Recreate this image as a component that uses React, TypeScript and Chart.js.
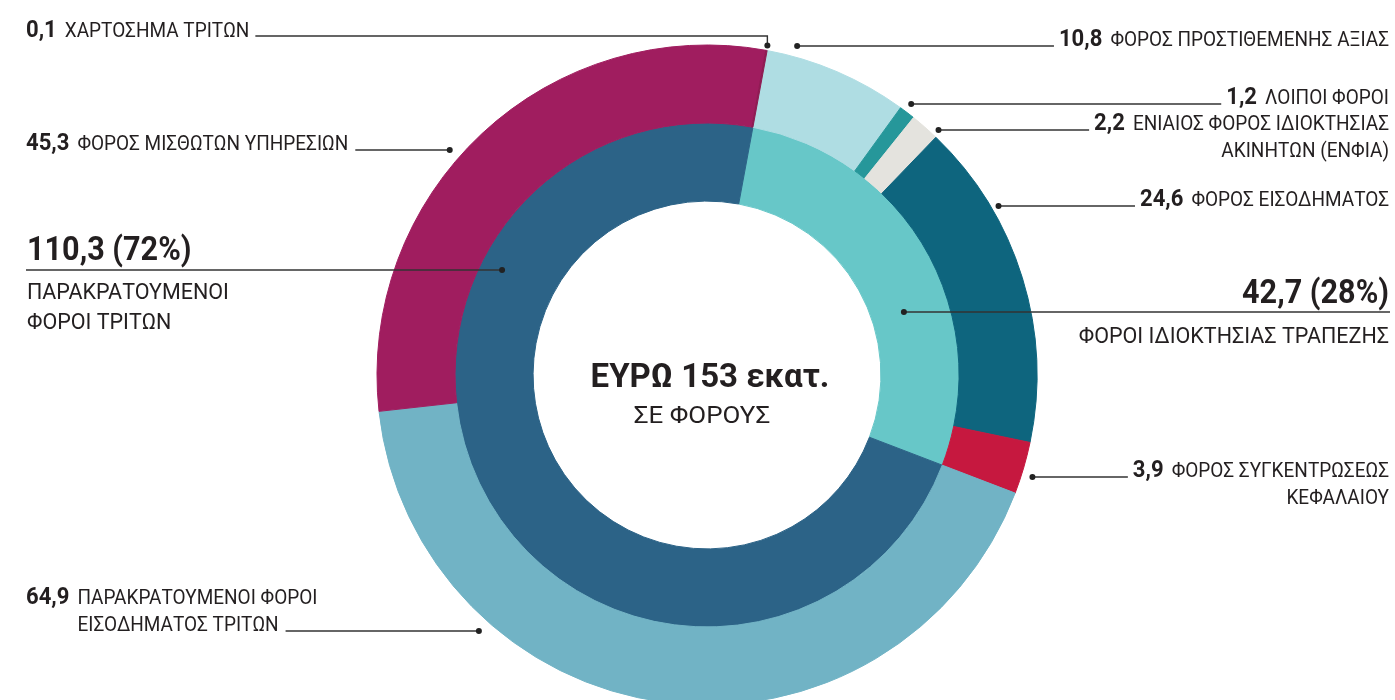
import React, { useEffect, useRef } from "react";
import { Chart, registerables } from "chart.js";

Chart.register(...registerables);

// ---------- DATA ----------
const outerCategories = [
  "ΦΟΡΟΣ ΠΡΟΣΤΙΘΕΜΕΝΗΣ ΑΞΙΑΣ",
  "ΛΟΙΠΟΙ ΦΟΡΟΙ",
  "ΕΝΙΑΙΟΣ ΦΟΡΟΣ ΙΔΙΟΚΤΗΣΙΑΣ ΑΚΙΝΗΤΩΝ (ΕΝΦΙΑ)",
  "ΦΟΡΟΣ ΕΙΣΟΔΗΜΑΤΟΣ",
  "ΦΟΡΟΣ ΣΥΓΚΕΝΤΡΩΣΕΩΣ ΚΕΦΑΛΑΙΟΥ",
  "ΠΑΡΑΚΡΑΤΟΥΜΕΝΟΙ ΦΟΡΟΙ ΕΙΣΟΔΗΜΑΤΟΣ ΤΡΙΤΩΝ",
  "ΦΟΡΟΣ ΜΙΣΘΩΤΩΝ ΥΠΗΡΕΣΙΩΝ",
  "ΧΑΡΤΟΣΗΜΑ ΤΡΙΤΩΝ",
];
const outerLabelLines = [
  ["ΦΟΡΟΣ ΠΡΟΣΤΙΘΕΜΕΝΗΣ ΑΞΙΑΣ"],
  ["ΛΟΙΠΟΙ ΦΟΡΟΙ"],
  ["ΕΝΙΑΙΟΣ ΦΟΡΟΣ ΙΔΙΟΚΤΗΣΙΑΣ", "ΑΚΙΝΗΤΩΝ (ΕΝΦΙΑ)"],
  ["ΦΟΡΟΣ ΕΙΣΟΔΗΜΑΤΟΣ"],
  ["ΦΟΡΟΣ ΣΥΓΚΕΝΤΡΩΣΕΩΣ", "ΚΕΦΑΛΑΙΟΥ"],
  ["ΠΑΡΑΚΡΑΤΟΥΜΕΝΟΙ ΦΟΡΟΙ", "ΕΙΣΟΔΗΜΑΤΟΣ ΤΡΙΤΩΝ"],
  ["ΦΟΡΟΣ ΜΙΣΘΩΤΩΝ ΥΠΗΡΕΣΙΩΝ"],
  ["ΧΑΡΤΟΣΗΜΑ ΤΡΙΤΩΝ"],
];
const outerValues = [10.8, 1.2, 2.2, 24.6, 3.9, 64.9, 45.3, 0.1];

const innerCategories = ["ΦΟΡΟΙ ΙΔΙΟΚΤΗΣΙΑΣ ΤΡΑΠΕΖΗΣ", "ΠΑΡΑΚΡΑΤΟΥΜΕΝΟΙ ΦΟΡΟΙ ΤΡΙΤΩΝ"];
const innerLabelLines = [["ΦΟΡΟΙ ΙΔΙΟΚΤΗΣΙΑΣ ΤΡΑΠΕΖΗΣ"], ["ΠΑΡΑΚΡΑΤΟΥΜΕΝΟΙ", "ΦΟΡΟΙ ΤΡΙΤΩΝ"]];
const innerValues = [42.7, 110.3];
const innerShares = ["28%", "72%"];

const centerUnitPrefix = "ΕΥΡΩ";
const centerUnitSuffix = "εκατ.";
const centerSubtitle = "ΣΕ ΦΟΡΟΥΣ";

// ---------- STYLE / LAYOUT ----------
const outerColors = ["#afdde3", "#26979a", "#e4e3de", "#0e657e", "#c6183f", "#71b3c5", "#a01d5f", "#8e1a52"];
const innerColors = ["#67c7c8", "#2c6387"];

const outerSide = ["right", "right", "right", "right", "right", "left", "left", "left"];
const outerFrac = [0.19, 0.4, 0.9, 0.276, 0.61, 0.725, 0.446, 0.5];
const outerGap = [11, 9, 7, 7, 11, 13, 12, 5];
const elbowIndex = 7;
const elbowY = 36;
const innerFrac = [0.615, 0.717];
const innerRadFrac = [0.42, 0.72];

const LEFT_X = 26;
const RIGHT_X = 1389;
const INK = "#231f20";
const LINE = "#333333";
const NUM_FONT = "bold 24px Roboto";
const NUM_SX = 0.92;
const LBL_FONT = "20px Roboto";
const LBL_SX = 0.95;
const BIG_FONT = "bold 34px Roboto";
const BIG_SX = 0.9;
const DESC_FONT = "21.5px Roboto";
const LINE_H = 27;

const fmt = (v: number) => v.toFixed(1).replace(".", ",");

function measure(ctx: CanvasRenderingContext2D, s: string, font: string, sx = 1) {
  ctx.save();
  ctx.font = font;
  const w = ctx.measureText(s).width * sx;
  ctx.restore();
  return w;
}

function text(ctx: CanvasRenderingContext2D, s: string, x: number, y: number, font: string, align: CanvasTextAlign, sx = 1) {
  ctx.save();
  ctx.font = font;
  ctx.fillStyle = INK;
  ctx.textAlign = align;
  ctx.textBaseline = "alphabetic";
  ctx.translate(x, y);
  ctx.scale(sx, 1);
  ctx.fillText(s, 0, 0);
  ctx.restore();
}

function poly(ctx: CanvasRenderingContext2D, pts: number[][]) {
  ctx.save();
  ctx.strokeStyle = LINE;
  ctx.lineWidth = 1.4;
  ctx.beginPath();
  pts.forEach((p, i) => (i ? ctx.lineTo(p[0], p[1]) : ctx.moveTo(p[0], p[1])));
  ctx.stroke();
  const last = pts[pts.length - 1];
  ctx.fillStyle = "#222";
  ctx.beginPath();
  ctx.arc(last[0], last[1], 3, 0, Math.PI * 2);
  ctx.fill();
  ctx.restore();
}

function anchor(arc: any, frac: number, r: number) {
  const a = arc.startAngle + frac * (arc.endAngle - arc.startAngle);
  return { x: arc.x + r * Math.cos(a), y: arc.y + r * Math.sin(a) };
}

const labelPlugin = {
  id: "sliceLabels",
  afterDraw(chart: any) {
    const ctx: CanvasRenderingContext2D = chart.ctx;
    const outerMeta = chart.getDatasetMeta(0);
    const innerMeta = chart.getDatasetMeta(1);

    // outer ring labels
    outerValues.forEach((v, i) => {
      const arc = outerMeta.data[i];
      const p = anchor(arc, outerFrac[i], arc.outerRadius + outerGap[i]);
      const num = fmt(v);
      const lines = outerLabelLines[i];
      const numW = measure(ctx, num, NUM_FONT, NUM_SX);
      if (outerSide[i] === "right") {
        const y0 = Math.round(p.y);
        lines.forEach((ln, k) => {
          text(ctx, ln, RIGHT_X, y0 + k * LINE_H, LBL_FONT, "right", LBL_SX);
          if (k === 0) {
            const dw = measure(ctx, ln, LBL_FONT, LBL_SX);
            const numX = RIGHT_X - dw - 8 - numW;
            text(ctx, num, numX, y0, NUM_FONT, "left", NUM_SX);
            poly(ctx, [[numX - 5, y0], [p.x, y0]]);
          }
        });
      } else if (i === elbowIndex) {
        const descX = LEFT_X + numW + 8;
        text(ctx, num, LEFT_X, elbowY + 1, NUM_FONT, "left", NUM_SX);
        text(ctx, lines[0], descX, elbowY + 1, LBL_FONT, "left", LBL_SX);
        const end = descX + measure(ctx, lines[0], LBL_FONT, LBL_SX) + 6;
        poly(ctx, [[end, elbowY], [p.x, elbowY], [p.x, p.y]]);
      } else {
        const yl = Math.round(p.y);
        const n = lines.length;
        const descX = LEFT_X + numW + 8;
        text(ctx, num, LEFT_X, yl - (n - 1) * LINE_H, NUM_FONT, "left", NUM_SX);
        lines.forEach((ln, k) => text(ctx, ln, descX, yl - (n - 1 - k) * LINE_H, LBL_FONT, "left", LBL_SX));
        const end = descX + measure(ctx, lines[n - 1], LBL_FONT, LBL_SX) + 7;
        poly(ctx, [[end, yl], [p.x, yl]]);
      }
    });

    // inner ring labels
    innerValues.forEach((v, i) => {
      const arc = innerMeta.data[i];
      const r = arc.innerRadius + innerRadFrac[i] * (arc.outerRadius - arc.innerRadius);
      const p = anchor(arc, innerFrac[i], r);
      const yl = Math.round(p.y);
      const big = `${fmt(v)} (${innerShares[i]})`;
      const lines = innerLabelLines[i];
      if (p.x > arc.x) {
        text(ctx, big, RIGHT_X, yl - 9, BIG_FONT, "right", BIG_SX);
        lines.forEach((ln, k) => text(ctx, ln, RIGHT_X, yl + 31 + k * 30, DESC_FONT, "right"));
        poly(ctx, [[RIGHT_X + 1, yl], [p.x, yl]]);
      } else {
        text(ctx, big, LEFT_X + 1, yl - 10, BIG_FONT, "left", BIG_SX);
        lines.forEach((ln, k) => text(ctx, ln, LEFT_X + 1, yl + 29 + k * 30, DESC_FONT, "left"));
        poly(ctx, [[LEFT_X, yl], [p.x, yl]]);
      }
    });

    // centre text
    const c = innerMeta.data[0];
    const total = innerValues.reduce((a, b) => a + b, 0);
    const rounded = Math.round(total * 10) / 10;
    const totalStr = Number.isInteger(rounded) ? String(rounded) : fmt(rounded);
    text(ctx, `${centerUnitPrefix} ${totalStr} ${centerUnitSuffix}`, c.x + 3, c.y + 12, "bold 33px Roboto", "center");
    text(ctx, centerSubtitle, c.x - 5, c.y + 48, "24px Roboto", "center", 1.08);
  },
};

export default function App() {
  const ref = useRef<HTMLCanvasElement | null>(null);

  useEffect(() => {
    if (!ref.current) return;
    const chart = new Chart(ref.current, {
      type: "doughnut",
      data: {
        labels: outerCategories,
        datasets: [
          {
            label: "outer",
            data: outerValues,
            backgroundColor: outerColors,
            borderColor: outerColors,
            borderWidth: 1,
          },
          {
            label: "inner",
            data: innerValues,
            backgroundColor: innerColors,
            borderColor: innerColors,
            borderWidth: 1,
          },
        ],
      },
      options: {
        responsive: false,
        animation: false,
        devicePixelRatio: 1,
        events: [],
        rotation: 10.5,
        circumference: 360,
        radius: 330,
        cutout: "52.7%",
        layout: { padding: { left: 19, right: 0, top: 0, bottom: 0 } },
        plugins: {
          legend: { display: false },
          tooltip: { enabled: false },
        },
      } as any,
      plugins: [labelPlugin],
    });
    return () => chart.destroy();
  }, []);

  return (
    <div
      style={{
        position: "fixed",
        left: 0,
        top: 0,
        width: 1395,
        height: 700,
        overflow: "hidden",
        background: "#ffffff",
      }}
    >
      <canvas ref={ref} width={1395} height={750} style={{ display: "block" }} />
    </div>
  );
}
